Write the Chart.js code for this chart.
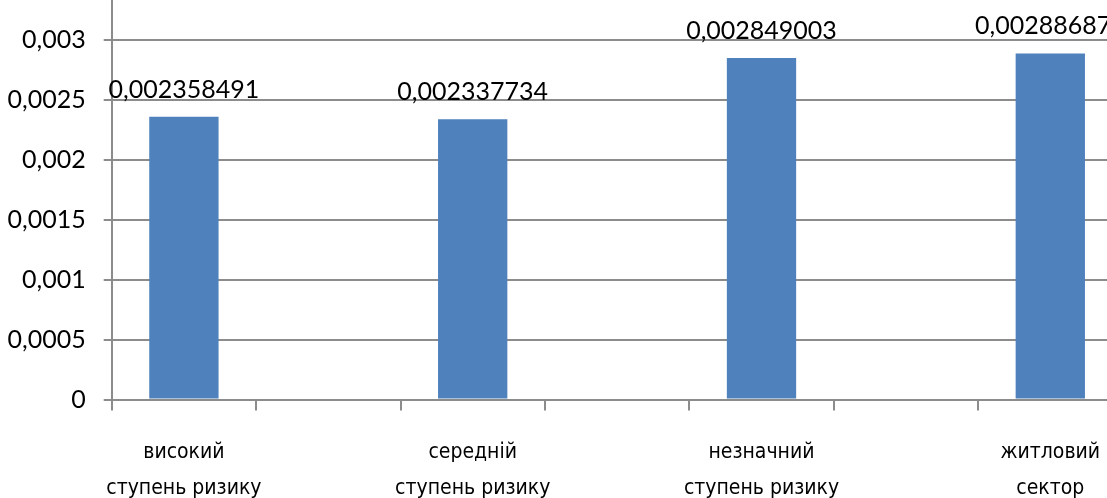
<!DOCTYPE html>
<html>
<head>
    <meta charset="utf-8">
    <script src="https://cdn.jsdelivr.net/npm/chart.js@4/dist/chart.umd.min.js"></script>
    <style>
        html, body { margin: 0; padding: 0; background: #fff; }
        #frame { position: relative; width: 1107px; height: 498px; overflow: hidden; }
        #box { position: absolute; left: 0; top: -53px; width: 1130px; height: 573px; }
    </style>
</head>
<body>
    <div id="frame">
        <div id="box"><canvas id="riskChart"></canvas></div>
    </div>
<script>
    // categories (every other slot left empty, as in the source sheet)
    const categories = [
        ['високий', 'ступень ризику'], '',
        ['середній', 'ступень ризику'], '',
        ['незначний', 'ступень ризику'], '',
        ['житловий', 'сектор']
    ];
    const riskValues = [0.002358491, null, 0.002337734, null, 0.002849003, null, 0.002886871];
    const yTicks = [0, 0.0005, 0.001, 0.0015, 0.002, 0.0025, 0.003, 0.0035];

    const gridGrey = '#8c8c8c';
    const numFont = { family: 'Lato, "Noto Sans", sans-serif', size: 25 };

    const toComma = v => String(v).replace('.', ',');

    // value labels above the bars
    const barLabels = {
        id: 'barLabels',
        afterDatasetsDraw(chart) {
            const ctx = chart.ctx;
            const meta = chart.getDatasetMeta(0);
            ctx.save();
            ctx.font = numFont.size + 'px ' + numFont.family;
            ctx.fillStyle = '#000';
            ctx.textAlign = 'center';
            ctx.textBaseline = 'alphabetic';
            meta.data.forEach((bar, i) => {
                const v = riskValues[i];
                if (v == null) return;
                ctx.fillText(toComma(v), bar.x, bar.y - 19);
            });
            ctx.restore();
        }
    };

    new Chart(document.getElementById('riskChart'), {
        type: 'bar',
        data: {
            labels: categories,
            datasets: [{
                data: riskValues,
                backgroundColor: '#4F81BD',
                borderWidth: 0,
                barPercentage: 0.48,
                categoryPercentage: 1
            }]
        },
        options: {
            responsive: true,
            maintainAspectRatio: false,
            animation: false,
            layout: { padding: { top: 6, right: 7.5, left: 0, bottom: 0 } },
            plugins: {
                legend: { display: false },
                tooltip: { enabled: false }
            },
            scales: {
                x: {
                    offset: true,
                    grid: {
                        offset: true,
                        drawOnChartArea: false,
                        drawTicks: true,
                        tickLength: 11,
                        color: gridGrey,
                        lineWidth: 2
                    },
                    border: { color: gridGrey, width: 2 },
                    ticks: {
                        color: '#000',
                        padding: 24,
                        autoSkip: false,
                        maxRotation: 0,
                        font: { family: '"DejaVu Sans Condensed", "Liberation Sans Narrow", sans-serif', size: 21, lineHeight: 1.7 }
                    },
                    afterFit: scale => { scale.height = 120.5; }
                },
                y: {
                    min: 0,
                    max: 0.0035,
                    afterBuildTicks: scale => { scale.ticks = yTicks.map(v => ({ value: v })); },
                    grid: { color: gridGrey, lineWidth: 2, tickLength: 8 },
                    border: { color: gridGrey, width: 2 },
                    ticks: {
                        color: '#000',
                        padding: 18,
                        font: numFont,
                        callback: v => toComma(parseFloat(Number(v).toFixed(4)))
                    },
                    afterFit: scale => { scale.width = 111.7; }
                }
            }
        },
        plugins: [barLabels]
    });
</script>
</body>
</html>
